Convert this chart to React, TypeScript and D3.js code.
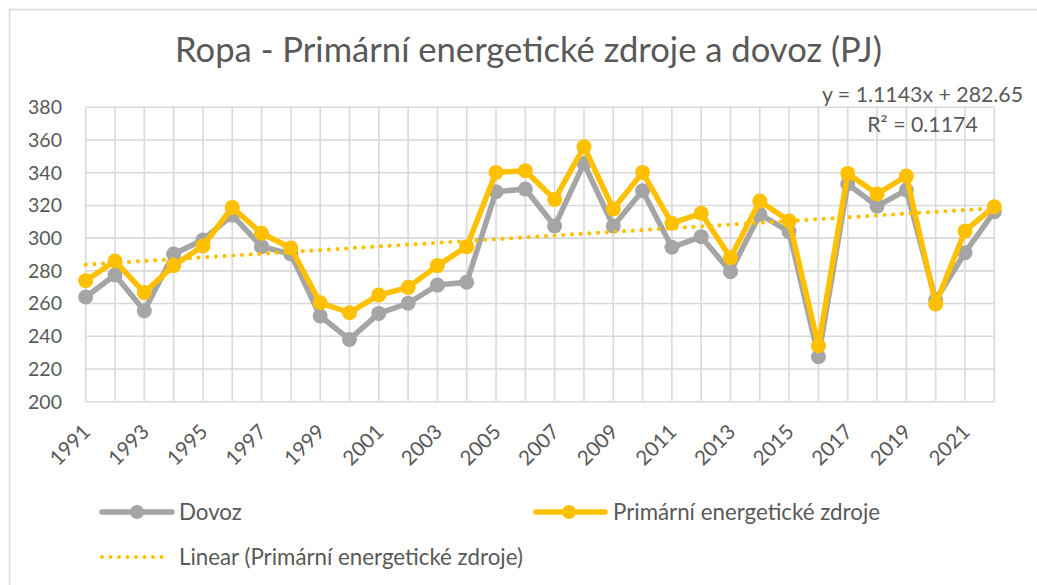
import React from "react";
import * as d3 from "d3";

const years = [1991,1992,1993,1994,1995,1996,1997,1998,1999,2000,2001,2002,2003,2004,2005,2006,2007,2008,2009,2010,2011,2012,2013,2014,2015,2016,2017,2018,2019,2020,2021,2022];
const dovoz = [264,277.5,255.6,290.3,298.9,314.1,294.8,290.3,252.4,238.1,254,260.2,271.3,273,328.4,330,307.4,345.7,307.4,329,294.4,300.9,279.5,314.6,303.9,227.5,333.1,319.6,329.4,262.2,291.1,316.2];
const primarni = [274,286,266.7,283.2,295.2,318.8,303,294,260.5,254.4,265.2,269.9,283.2,294.8,340.2,341.2,323.7,355.9,317.8,340.2,309.1,315.2,288,322.7,310.5,234.2,339.6,327,338,259.7,304.4,319.2];
const yTicks = [200,220,240,260,280,300,320,340,360,380];
const xLabels = [1991,1993,1995,1997,1999,2001,2003,2005,2007,2009,2011,2013,2015,2017,2019,2021];
const trendSlope = 1.1143;
const trendIntercept = 282.65;
const title = "Ropa - Primární energetické zdroje a dovoz (PJ)";
const eqText = "y = 1.1143x + 282.65";
const r2Text = "R² = 0.1174";
const seriesNames = ["Dovoz", "Primární energetické zdroje", "Linear (Primární energetické zdroje)"];

const GRAY = "#a5a5a5";
const YELLOW = "#ffc000";
const TEXT = "#595959";
const GRID = "#d9d9d9";
const FONT = "Lato, 'Open Sans', sans-serif";

export default function App() {
  const x = d3.scalePoint<number>().domain(years).range([85.7, 994.3]);
  const y = d3.scaleLinear().domain([200, 380]).range([401.7, 107.3]);
  const line = d3.line<number>().x((_, i) => x(years[i])!).y((d) => y(d));
  const trendPts: [number, number][] = [
    [x(years[0])!, y(trendIntercept + trendSlope * 1)],
    [x(years[years.length - 1])!, y(trendIntercept + trendSlope * years.length)],
  ];
  const trendLine = d3.line()(trendPts)!;
  const [x0, x1] = x.range();

  return (
    <svg width={1037} height={585} style={{ position: "absolute", left: 0, top: 0 }} fontFamily={FONT}>
      <rect x={0} y={0} width={1037} height={585} fill="#fff" />
      <rect x={9.5} y={9.5} width={1200} height={800} fill="none" stroke={GRID} strokeWidth={1.5} />
      <text x={528.5} y={62} textAnchor="middle" fontSize={34.6} fill={TEXT}>{title}</text>
      {/* grid */}
      {yTicks.map((t) => (
        <line key={"h" + t} x1={x0} x2={x1} y1={y(t)} y2={y(t)} stroke={GRID} strokeWidth={1.6} />
      ))}
      {years.map((yr) => (
        <line key={"v" + yr} x1={x(yr)} x2={x(yr)} y1={y(380)} y2={y(200)} stroke={GRID} strokeWidth={1.6} />
      ))}
      {yTicks.map((t) => (
        <text key={"yl" + t} x={62} y={y(t)} dy="0.35em" textAnchor="end" fontSize={19.5} fill={TEXT}>{t}</text>
      ))}
      {xLabels.map((yr) => (
        <text key={"xl" + yr} transform={`translate(${x(yr)! + 1},${428}) rotate(-45)`} dy="0.35em" textAnchor="end" fontSize={20.5} fill={TEXT}>{yr}</text>
      ))}
      {/* series */}
      <path d={line(dovoz)!} fill="none" stroke={GRAY} strokeWidth={5.5} strokeLinejoin="round" />
      {dovoz.map((d, i) => (
        <circle key={"gd" + i} cx={x(years[i])} cy={y(d)} r={7.5} fill={GRAY} />
      ))}
      <path d={line(primarni)!} fill="none" stroke={YELLOW} strokeWidth={5.5} strokeLinejoin="round" />
      {primarni.map((d, i) => (
        <circle key={"yd" + i} cx={x(years[i])} cy={y(d)} r={7.5} fill={YELLOW} />
      ))}
      <path d={trendLine} fill="none" stroke={YELLOW} strokeWidth={4.2} strokeDasharray="0 8.7" strokeLinecap="round" />
      {/* equation */}
      <text x={922.5} y={102} textAnchor="middle" fontSize={21.3} fill={TEXT}>{eqText}</text>
      <text x={922.5} y={132} textAnchor="middle" fontSize={21.3} fill={TEXT}>{r2Text}</text>
      {/* legend */}
      <line x1={102} x2={172} y1={512} y2={512} stroke={GRAY} strokeWidth={5.5} strokeLinecap="round" />
      <circle cx={137} cy={512} r={7} fill={GRAY} />
      <text x={179} y={512} dy="0.35em" fontSize={22.3} fill={TEXT}>{seriesNames[0]}</text>
      <line x1={536} x2={605} y1={512} y2={512} stroke={YELLOW} strokeWidth={5.5} strokeLinecap="round" />
      <circle cx={569} cy={512} r={7} fill={YELLOW} />
      <text x={613} y={512} dy="0.35em" fontSize={22.3} fill={TEXT}>{seriesNames[1]}</text>
      <line x1={102} x2={170} y1={557} y2={557} stroke={YELLOW} strokeWidth={4} strokeDasharray="0 8.5" strokeLinecap="round" />
      <text x={179} y={557} dy="0.35em" fontSize={22.3} fill={TEXT}>{seriesNames[2]}</text>
    </svg>
  );
}
